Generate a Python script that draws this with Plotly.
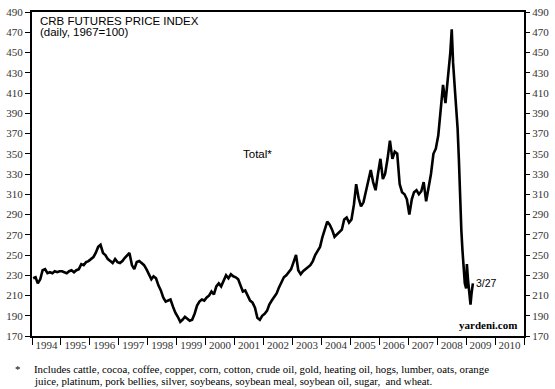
import plotly.graph_objects as go

# Monthly readings of the CRB Futures Price Index (1967=100)
dates = [
 "1994-01-15","1994-02-15","1994-03-15","1994-04-15","1994-05-15","1994-06-15","1994-07-15","1994-08-15","1994-09-15","1994-10-15","1994-11-15","1994-12-15",
 "1995-01-15","1995-02-15","1995-03-15","1995-04-15","1995-05-15","1995-06-15","1995-07-15","1995-08-15","1995-09-15","1995-10-15","1995-11-15","1995-12-15",
 "1996-01-15","1996-02-15","1996-03-15","1996-04-15","1996-05-15","1996-06-15","1996-07-15","1996-08-15","1996-09-15","1996-10-15","1996-11-15","1996-12-15",
 "1997-01-15","1997-02-15","1997-03-15","1997-04-15","1997-05-15","1997-06-15","1997-07-15","1997-08-15","1997-09-15","1997-10-15","1997-11-15","1997-12-15",
 "1998-01-15","1998-02-15","1998-03-15","1998-04-15","1998-05-15","1998-06-15","1998-07-15","1998-08-15","1998-09-15","1998-10-15","1998-11-15","1998-12-15",
 "1999-01-15","1999-02-15","1999-03-15","1999-04-15","1999-05-15","1999-06-15","1999-07-15","1999-08-15","1999-09-15","1999-10-15","1999-11-15","1999-12-15",
 "2000-01-15","2000-02-15","2000-03-15","2000-04-15","2000-05-15","2000-06-15","2000-07-15","2000-08-15","2000-09-15","2000-10-15","2000-11-15","2000-12-15",
 "2001-01-15","2001-02-15","2001-03-15","2001-04-15","2001-05-15","2001-06-15","2001-07-15","2001-08-15","2001-09-15","2001-10-15","2001-11-15","2001-12-15",
 "2002-01-15","2002-02-15","2002-03-15","2002-04-15","2002-05-15","2002-06-15","2002-07-15","2002-08-15","2002-09-15","2002-10-15","2002-11-15","2002-12-15",
 "2003-01-15","2003-02-15","2003-03-15","2003-04-15","2003-05-15","2003-06-15","2003-07-15","2003-08-15","2003-09-15","2003-10-15","2003-11-15","2003-12-15",
 "2004-01-15","2004-02-15","2004-03-15","2004-04-15","2004-05-15","2004-06-15","2004-07-15","2004-08-15","2004-09-15","2004-10-15","2004-11-15","2004-12-15",
 "2005-01-15","2005-02-15","2005-03-15","2005-04-15","2005-05-15","2005-06-15","2005-07-15","2005-08-15","2005-09-15","2005-10-15","2005-11-15","2005-12-15",
 "2006-01-15","2006-02-15","2006-03-15","2006-04-15","2006-05-15","2006-06-15","2006-07-15","2006-08-15","2006-09-15","2006-10-15","2006-11-15","2006-12-15",
 "2007-01-15","2007-02-15","2007-03-15","2007-04-15","2007-05-15","2007-06-15","2007-07-15","2007-08-15","2007-09-15","2007-10-15","2007-11-15","2007-12-15",
 "2008-01-15","2008-02-15","2008-03-15","2008-04-15","2008-05-15","2008-06-15","2008-07-03","2008-07-20","2008-08-15","2008-09-15","2008-10-01","2008-10-15","2008-11-01","2008-11-15","2008-12-01","2008-12-15",
 "2009-01-01","2009-01-10","2009-01-25","2009-02-10","2009-02-25","2009-03-10","2009-03-27",
]
crb = [
 227, 228, 222, 226, 235, 236, 232, 233, 232, 234, 233, 234,
 234, 233, 232, 234, 235, 233, 235, 236, 241, 240, 243, 244,
 246, 248, 252, 258, 260, 252, 250, 246, 244, 242, 246, 243,
 242, 244, 247, 250, 252, 240, 236, 243, 244, 242, 240, 236,
 231, 226, 229, 227, 220, 215, 208, 204, 205, 206, 199, 193,
 189, 184, 186, 189, 187, 185, 186, 192, 200, 204, 206, 205,
 208, 210, 214, 211, 219, 222, 219, 225, 230, 227, 231, 229,
 228, 226, 220, 214, 215, 210, 205, 203, 198, 188, 186, 190,
 192, 195, 201, 205, 208, 212, 218, 224, 228, 230, 233, 236,
 243, 250, 235, 231, 234, 236, 238, 240, 244, 250, 254, 258,
 268, 276, 283, 280, 275, 268, 270, 272, 275, 285, 287, 282,
 285, 300, 320, 306, 298, 302, 312, 325, 334, 322, 314, 330,
 345, 325, 330, 345, 363, 345, 352, 350, 320, 312, 310, 305,
 290, 305, 312, 314, 310, 313, 322, 303, 315, 330, 350, 355,
 368, 395, 418, 400, 425, 450, 473, 440, 410, 375, 345, 305, 275, 255, 235, 222,
 217, 241, 225, 210, 201, 212, 222,
]

y_ticks = list(range(170, 491, 20))

fig = go.Figure()
fig.add_trace(go.Scatter(x=dates, y=crb, mode="lines",
                         line=dict(color="black", width=2.6),
                         hoverinfo="skip", showlegend=False))
fig.add_trace(go.Scatter(x=[dates[0]], y=[crb[0]], yaxis="y2", mode="lines",
                         line=dict(color="rgba(0,0,0,0)"), hoverinfo="skip",
                         showlegend=False))

serif = "Liberation Serif, Times New Roman, serif"
tickfont = dict(family=serif, size=11, color="#333")

fig.update_layout(
    width=555, height=389,
    margin=dict(l=31, r=30, t=6, b=53),
    paper_bgcolor="white", plot_bgcolor="white",
    xaxis=dict(
        type="date", range=["1994-01-01", "2011-01-01"],
        dtick="M12", tick0="1994-01-01", tickformat="%Y",
        ticklabelmode="period", ticks="outside", ticklen=7, tickwidth=1,
        ticklabelstandoff=-9,
        tickcolor="black", showgrid=False, zeroline=False,
        showline=True, linecolor="black", linewidth=2, mirror=True,
        tickfont=tickfont,
    ),
    yaxis=dict(
        range=[170, 490], tickvals=y_ticks, ticks="outside", ticklen=5,
        tickcolor="black", tickwidth=1, showgrid=False, zeroline=False,
        showline=True, linecolor="black", linewidth=2, mirror=True,
        tickfont=tickfont,
    ),
    yaxis2=dict(
        range=[170, 490], tickvals=y_ticks, overlaying="y", side="right",
        ticks="outside", ticklen=5, tickcolor="black", tickwidth=1,
        showgrid=False, zeroline=False, showline=False,
        tickfont=tickfont,
    ),
)

ann_sans = dict(family="Liberation Sans", size=11.5, color="black")
fig.add_annotation(xref="paper", yref="paper", x=0.012, y=0.973, xanchor="left",
                   yanchor="middle", showarrow=False, text="CRB FUTURES PRICE INDEX",
                   font=ann_sans)
fig.add_annotation(xref="paper", yref="paper", x=0.012, y=0.939, xanchor="left",
                   yanchor="middle", showarrow=False, text="(daily, 1967=100)",
                   font=ann_sans)
fig.add_annotation(x="2001-10-15", y=350, showarrow=False, text="Total*",
                   xanchor="center", yanchor="middle", font=ann_sans)
fig.add_annotation(x="2009-04-10", y=222, showarrow=False, text="3/27",
                   xanchor="left", yanchor="middle",
                   font=dict(family="Liberation Sans", size=10.5, color="black"))
fig.add_annotation(xref="paper", yref="paper", x=0.99, y=0.01, xanchor="right",
                   yanchor="bottom", showarrow=False, text="<b>yardeni.com</b>",
                   font=dict(family=serif, size=11, color="black"))

foot = dict(family=serif, size=10.8, color="black")
fig.add_annotation(xref="paper", yref="paper", x=-0.02, y=-0.103, xanchor="right",
                   yanchor="middle", showarrow=False, text="*", font=foot)
fig.add_annotation(xref="paper", yref="paper", x=0.0, y=-0.103, xanchor="left",
                   yanchor="middle", showarrow=False,
                   text="Includes cattle, cocoa, coffee, copper, corn, cotton, crude oil, gold, heating oil, hogs, lumber, oats, orange",
                   font=foot)
fig.add_annotation(xref="paper", yref="paper", x=0.0, y=-0.139, xanchor="left",
                   yanchor="middle", showarrow=False,
                   text="juice, platinum, pork bellies, silver, soybeans, soybean meal, soybean oil, sugar,  and wheat.",
                   font=foot)

fig.write_html("out.html", config={"displayModeBar": False},
               post_script="document.body.style.margin='0';document.body.style.padding='0';")
